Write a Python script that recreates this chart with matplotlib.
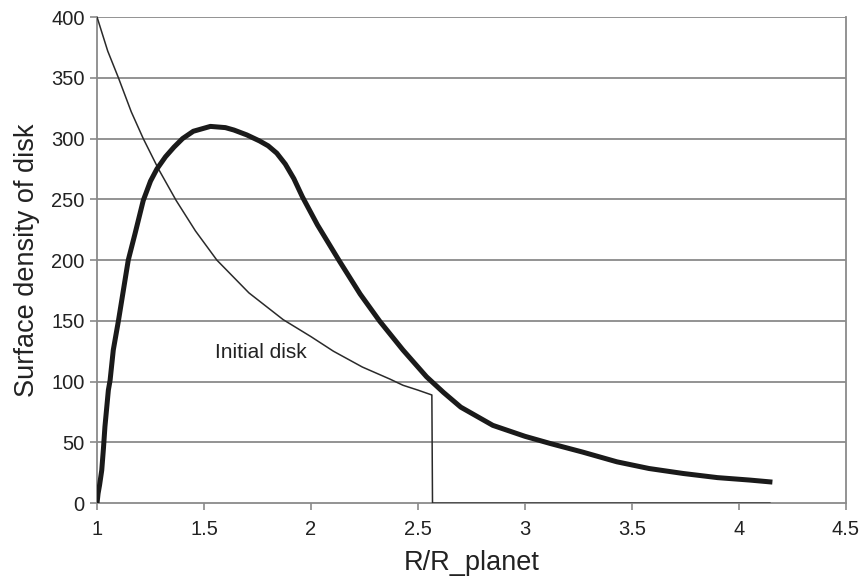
import matplotlib
matplotlib.use('Agg')
import matplotlib.pyplot as plt

plt.rcParams['font.family'] = ['Liberation Sans', 'DejaVu Sans']

# evolved disk (thick curve)
r_disk = [1.0, 1.005, 1.012, 1.022, 1.03, 1.037, 1.053, 1.061, 1.076, 1.1,
          1.123, 1.146, 1.178, 1.216, 1.25, 1.28, 1.32, 1.36, 1.40, 1.45,
          1.53, 1.60, 1.64, 1.70, 1.76, 1.80, 1.84, 1.88, 1.92, 1.96,
          2.03, 2.13, 2.23, 2.32, 2.43, 2.54, 2.62, 2.70, 2.85, 3.0,
          3.12, 3.27, 3.43, 3.58, 3.74, 3.90, 4.05, 4.145]
sigma_disk = [0, 8, 15, 27, 45, 63, 93, 101, 126, 150,
              175, 200, 222, 249, 265, 275, 285, 293, 300, 306,
              310, 309, 307, 303, 298, 294, 288, 279, 267, 252,
              229, 200, 172, 150, 126, 104, 91, 79, 64, 55,
              49, 42, 34, 28.5, 24.4, 21, 19, 17.5]

# initial disk (thin curve)
r_init = [1.0, 1.05, 1.10, 1.16, 1.216, 1.287, 1.37, 1.46, 1.56, 1.71,
          1.87, 2.0, 2.105, 2.24, 2.37, 2.43, 2.5, 2.565, 2.568, 4.145]
sigma_init = [400, 372, 350, 322, 300, 275, 249, 224, 200, 173,
              151, 137, 125, 112, 102, 97, 93, 89, 0, 0]

xticks = [1, 1.5, 2, 2.5, 3, 3.5, 4, 4.5]
yticks = [0, 50, 100, 150, 200, 250, 300, 350, 400]

fig = plt.figure(figsize=(8.64, 5.77), dpi=100)
ax = fig.add_axes([0.1123, 0.128, 0.979 - 0.1123, 0.9705 - 0.128])

grid_col = '#8a8a8a'
for y in yticks[1:]:
    ax.axhline(y, color=grid_col, lw=1.3, zorder=1)

ax.plot(r_init, sigma_init, color='#2a2a2a', lw=1.1, zorder=3)
ax.plot(r_disk, sigma_disk, color='#1a1a1a', lw=3.6, zorder=4)

ax.text(1.55, 124, 'Initial disk', fontsize=15, color='#222222',
        va='center', ha='left')

ax.set_xlim(1, 4.5)
ax.set_ylim(0, 400)
ax.set_xticks(xticks)
ax.set_xticklabels(['1', '1.5', '2', '2.5', '3', '3.5', '4', '4.5'])
ax.set_yticks(yticks)

for side in ['left', 'right', 'bottom']:
    ax.spines[side].set_color(grid_col)
    ax.spines[side].set_linewidth(1.3)
ax.spines['top'].set_visible(False)

ax.tick_params(axis='both', direction='out', length=5, width=1.2,
               color=grid_col, labelsize=14.5, labelcolor='#222222')
ax.tick_params(axis='x', pad=7)
ax.tick_params(axis='y', pad=4)

ax.set_xlabel('R/R_planet', fontsize=19.5, color='#222222', labelpad=8)
ax.set_ylabel('Surface density of disk', fontsize=19.5, color='#222222',
              labelpad=8)

fig.savefig('out.png', dpi=100)
